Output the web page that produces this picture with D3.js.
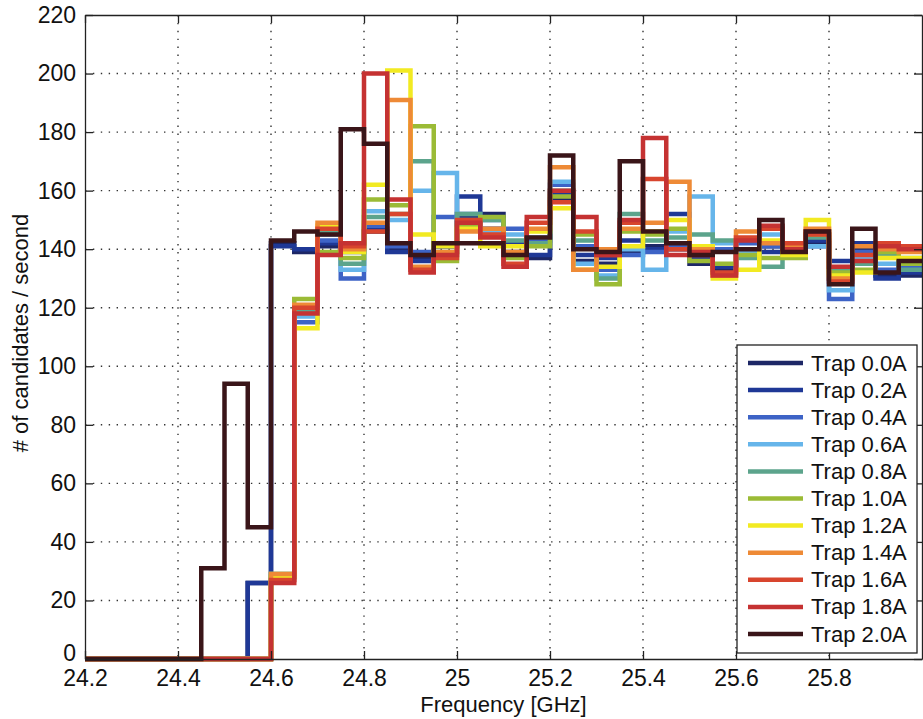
<!DOCTYPE html>
<html>
<head>
<meta charset="utf-8">
<script src="https://cdn.jsdelivr.net/npm/d3@7"></script>
<style>
body { margin: 0; background: #fff; }
svg text { font-family: "Liberation Sans", Arial, Helvetica, sans-serif; }
</style>
</head>
<body>
<script>
// bin edges [GHz]
const freqEdges = [24.20, 24.25, 24.30, 24.35, 24.40, 24.45, 24.50, 24.55, 24.60, 24.65,
    24.70, 24.75, 24.80, 24.85, 24.90, 24.95, 25.00, 25.05, 25.10, 25.15,
    25.20, 25.25, 25.30, 25.35, 25.40, 25.45, 25.50, 25.55, 25.60, 25.65,
    25.70, 25.75, 25.80, 25.85, 25.90, 25.95, 26.00];

const trapLabels = ["Trap 0.0A", "Trap 0.2A", "Trap 0.4A", "Trap 0.6A", "Trap 0.8A", "Trap 1.0A",
    "Trap 1.2A", "Trap 1.4A", "Trap 1.6A", "Trap 1.8A", "Trap 2.0A"];

// candidates per second in each bin
const trap00 = [0, 0, 0, 0, 0, 0, 0, 26, 142, 139, 141, 140, 146, 140, 137, 141, 151, 152, 139, 137, 157, 136, 135, 139, 141, 140, 135, 133, 138, 141, 140, 142, 130, 140, 131, 131];
const trap02 = [0, 0, 0, 0, 0, 0, 0, 26, 141, 140, 142, 139, 147, 139, 136, 141, 158, 147, 142, 138, 159, 138, 137, 143, 140, 152, 137, 134, 140, 139, 139, 143, 136, 142, 130, 132];
const trap04 = [0, 0, 0, 0, 0, 0, 0, 0, 28, 115, 143, 130, 148, 141, 139, 151, 152, 150, 147, 143, 162, 141, 133, 138, 139, 141, 139, 140, 142, 141, 141, 141, 123, 139, 133, 134];
const trap06 = [0, 0, 0, 0, 0, 0, 0, 0, 29, 117, 145, 133, 153, 150, 160, 166, 150, 146, 145, 144, 163, 135, 131, 140, 133, 146, 158, 142, 139, 145, 140, 141, 126, 137, 135, 137];
const trap08 = [0, 0, 0, 0, 0, 0, 0, 0, 28, 119, 146, 135, 151, 152, 170, 139, 152, 150, 143, 142, 160, 143, 130, 152, 143, 144, 145, 143, 137, 134, 139, 144, 133, 135, 138, 133];
const trap10 = [0, 0, 0, 0, 0, 0, 0, 0, 29, 123, 139, 137, 157, 155, 182, 136, 148, 151, 137, 141, 158, 145, 128, 146, 145, 147, 136, 135, 138, 137, 137, 145, 132, 133, 139, 135];
const trap12 = [0, 0, 0, 0, 0, 0, 0, 0, 28, 113, 148, 139, 162, 201, 145, 141, 147, 141, 141, 146, 154, 133, 134, 141, 146, 150, 141, 130, 133, 143, 138, 150, 131, 132, 137, 137];
const trap14 = [0, 0, 0, 0, 0, 0, 0, 0, 29, 121, 149, 140, 149, 191, 134, 139, 146, 147, 139, 147, 168, 133, 140, 147, 149, 163, 140, 131, 146, 142, 141, 147, 130, 141, 140, 139];
const trap16 = [0, 0, 0, 0, 0, 0, 0, 0, 27, 120, 147, 141, 146, 152, 133, 137, 150, 145, 135, 149, 156, 146, 138, 149, 164, 140, 138, 132, 144, 147, 142, 145, 129, 138, 142, 141];
const trap18 = [0, 0, 0, 0, 0, 0, 0, 0, 26, 118, 138, 142, 200, 157, 132, 138, 149, 144, 134, 151, 160, 151, 138, 150, 178, 138, 139, 131, 143, 148, 140, 146, 134, 136, 141, 140];
const trap20 = [0, 0, 0, 0, 0, 31, 94, 45, 143, 146, 145, 181, 176, 142, 138, 142, 142, 142, 138, 144, 172, 140, 139, 170, 146, 142, 138, 139, 140, 150, 139, 146, 128, 147, 132, 136];

const trapColors = ["#1d2766", "#1f3896", "#3d63c6", "#66b5ea", "#5ca48c", "#9bbb36",
    "#f2ea22", "#ee8a36", "#d8452e", "#c53232", "#3a1519"];

const xTicks = [24.2, 24.4, 24.6, 24.8, 25, 25.2, 25.4, 25.6, 25.8];
const yTicks = [0, 20, 40, 60, 80, 100, 120, 140, 160, 180, 200, 220];

const allSeries = [trap00, trap02, trap04, trap06, trap08, trap10, trap12, trap14, trap16, trap18, trap20];

const width = 923;
const height = 719;
const plotLeft = 85, plotRight = 922, plotTop = 15, plotBottom = 659;

const svg = d3.select("body").append("svg")
    .attr("width", width)
    .attr("height", height);

const x = d3.scaleLinear().domain([24.2, 26]).range([plotLeft, plotRight]);
const y = d3.scaleLinear().domain([0, 220]).range([plotBottom, plotTop]);

// dotted grid
const grid = svg.append("g")
    .attr("stroke", "#333")
    .attr("stroke-width", 1.4)
    .attr("stroke-dasharray", "1.4,6.5");

grid.selectAll("line.gx")
    .data(xTicks.slice(1))
    .enter().append("line")
    .attr("x1", d => x(d)).attr("x2", d => x(d))
    .attr("y1", plotTop).attr("y2", plotBottom);

grid.selectAll("line.gy")
    .data(yTicks.slice(1, -1))
    .enter().append("line")
    .attr("x1", plotLeft).attr("x2", plotRight)
    .attr("y1", d => y(d)).attr("y2", d => y(d));

svg.append("defs").append("clipPath")
    .attr("id", "plotClip")
    .append("rect")
    .attr("x", plotLeft).attr("y", 0)
    .attr("width", plotRight - plotLeft).attr("height", plotBottom + 4);

// stairs
const stairs = d3.line()
    .x(d => x(d[0]))
    .y(d => y(d[1]))
    .curve(d3.curveStepAfter);

const lines = svg.append("g").attr("clip-path", "url(#plotClip)");

allSeries.forEach((vals, i) => {
    const pts = vals.map((v, j) => [freqEdges[j], v]);
    pts.push([freqEdges[freqEdges.length - 1], vals[vals.length - 1]]);
    lines.append("path")
        .datum(pts)
        .attr("fill", "none")
        .attr("stroke", trapColors[i])
        .attr("stroke-width", 4.5)
        .attr("stroke-linejoin", "miter")
        .attr("d", stairs);
});

// axes with inward ticks (matlab style)
const fontSize = 23;

svg.append("g")
    .attr("transform", `translate(0,${plotBottom})`)
    .call(d3.axisBottom(x).tickValues(xTicks).tickSizeInner(-8).tickSizeOuter(0).tickPadding(11)
        .tickFormat(d3.format("")));

const yAxis = svg.append("g")
    .attr("transform", `translate(${plotLeft},0)`)
    .call(d3.axisLeft(y).tickValues(yTicks).tickSizeInner(-8).tickSizeOuter(0).tickPadding(9));

svg.append("g")
    .attr("transform", `translate(0,${plotTop})`)
    .call(d3.axisTop(x).tickValues(xTicks).tickSizeInner(-8).tickSizeOuter(0).tickFormat(""));

svg.append("g")
    .attr("transform", `translate(${plotRight},0)`)
    .call(d3.axisRight(y).tickValues(yTicks).tickSizeInner(-8).tickSizeOuter(0).tickFormat(""));

svg.selectAll(".domain, .tick line")
    .attr("stroke", "#222")
    .attr("stroke-width", 1.3);

svg.selectAll(".tick text")
    .attr("fill", "#111")
    .attr("font-size", fontSize)
    .attr("font-family", "Liberation Sans, Arial, sans-serif");

// the "0" label sits a bit higher so it clears 24.2
yAxis.selectAll(".tick text").filter(d => d === 0).attr("dy", "0.05em");

// axis titles
svg.append("text")
    .attr("x", (plotLeft + plotRight) / 2)
    .attr("y", 712)
    .attr("text-anchor", "middle")
    .attr("font-size", 22)
    .attr("fill", "#111")
    .text("Frequency [GHz]");

svg.append("text")
    .attr("transform", "translate(28,333) rotate(-90)")
    .attr("text-anchor", "middle")
    .attr("font-size", 22)
    .attr("fill", "#111")
    .text("# of candidates / second");

// legend
const legend = svg.append("g");

legend.append("rect")
    .attr("x", 737)
    .attr("y", 345)
    .attr("width", 180)
    .attr("height", 308)
    .attr("fill", "#fff")
    .attr("stroke", "#222")
    .attr("stroke-width", 1.3);

trapLabels.forEach((label, i) => {
    const ly = 363 + i * 27.1;
    legend.append("line")
        .attr("x1", 748).attr("x2", 803)
        .attr("y1", ly).attr("y2", ly)
        .attr("stroke", trapColors[i])
        .attr("stroke-width", 4.5);
    legend.append("text")
        .attr("x", 811)
        .attr("y", ly + 7.5)
        .attr("font-size", 22)
        .attr("fill", "#111")
        .text(label);
});
</script>
</body>
</html>
